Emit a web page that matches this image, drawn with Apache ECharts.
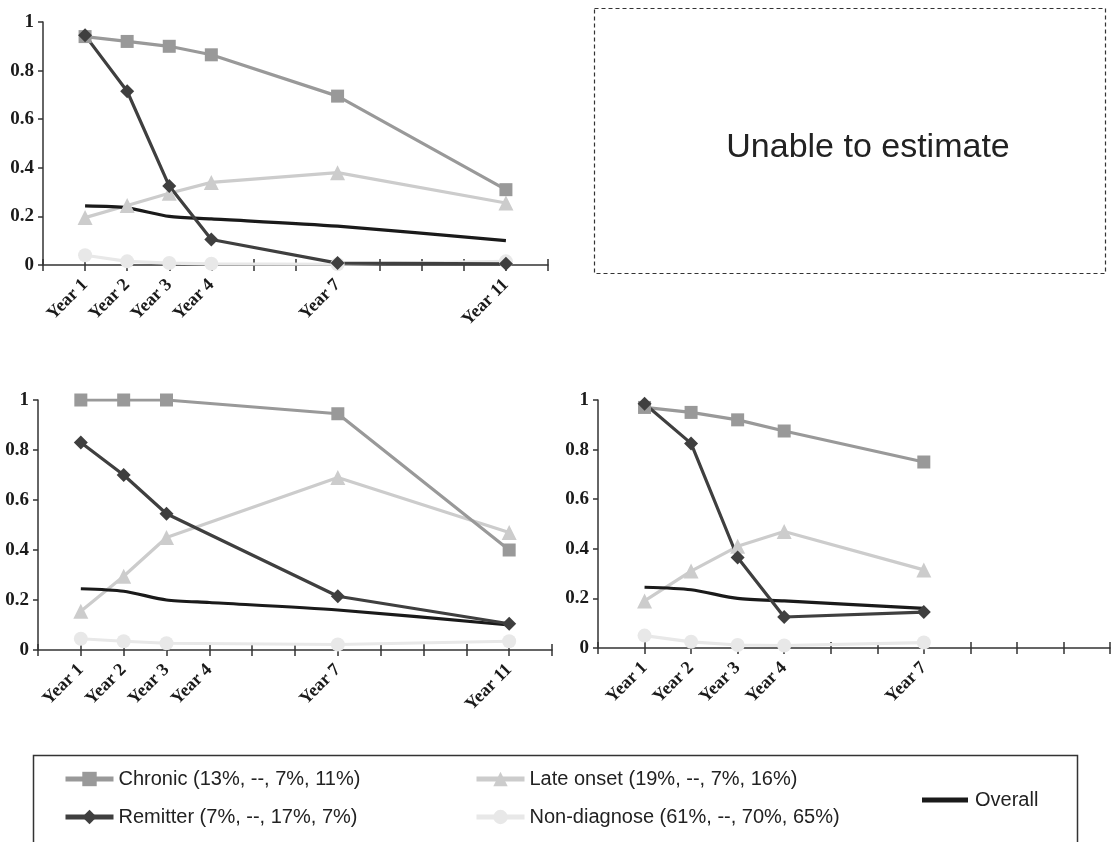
<!DOCTYPE html>
<html><head><meta charset="utf-8">
<script src="https://cdn.jsdelivr.net/npm/echarts@6/dist/echarts.min.js"></script>
<style>html,body{margin:0;padding:0;background:#fff}#c{width:1113px;height:842px}</style>
</head><body><div id="c"></div>
<script>
// Panel A (top-left)
const yearsA = [1, 2, 3, 4, 7, 11];
const chronicA = [0.94, 0.92, 0.90, 0.865, 0.695, 0.31];
const remitterA = [0.945, 0.715, 0.325, 0.105, 0.008, 0.005];
const lateA = [0.195, 0.245, 0.295, 0.34, 0.38, 0.255];
const nonDiagA = [0.04, 0.015, 0.008, 0.005, 0.003, 0.015];
const overallA = [0.243, 0.235, 0.2, 0.19, 0.16, 0.1];
// Panel B (bottom-left)
const yearsB = [1, 2, 3, 4, 7, 11];
const chronicB = [1.0, 1.0, 1.0, null, 0.945, 0.40];
const remitterB = [0.83, 0.70, 0.545, null, 0.215, 0.105];
const lateB = [0.155, 0.295, 0.45, null, 0.69, 0.47];
const nonDiagB = [0.045, 0.035, 0.027, null, 0.022, 0.035];
const overallB = [0.245, 0.235, 0.2, 0.19, 0.16, 0.1];
// Panel C (bottom-right)
const yearsC = [1, 2, 3, 4, 7];
const chronicC = [0.97, 0.95, 0.92, 0.875, 0.75];
const remitterC = [0.985, 0.825, 0.365, 0.125, 0.145];
const lateC = [0.19, 0.31, 0.41, 0.47, 0.315];
const nonDiagC = [0.05, 0.025, 0.012, 0.01, 0.022];
const overallC = [0.245, 0.235, 0.2, 0.19, 0.16];
// tick labels
const tickYearsA = [1, 2, 3, 4, 7, 11];
const tickYearsB = [1, 2, 3, 4, 7, 11];
const tickYearsC = [1, 2, 3, 4, 7];
const yTicks = [0, 0.2, 0.4, 0.6, 0.8, 1];
const names = {
  chronic: 'Chronic (13%, --, 7%, 11%)',
  remitter: 'Remitter (7%, --, 17%, 7%)',
  late: 'Late onset (19%, --, 7%, 16%)',
  nonDiag: 'Non-diagnose (61%, --, 70%, 65%)',
  overall: 'Overall'
};
const noteText = 'Unable to estimate';

const COL = {chronic:'#999999', remitter:'#3f3f3f', late:'#cccccc', nonDiag:'#e8e8e8', overall:'#1a1a1a'};
const SYM = {chronic:'rect', remitter:'diamond', late:'triangle', nonDiag:'circle', overall:'none'};
const SIZE = {chronic:13, remitter:14, late:15, nonDiag:14, overall:0};

const grids = [
  {left:43, top:22, width:505, height:243, max:12, ticks:tickYearsA},
  {left:38, top:400, width:514, height:250, max:12, ticks:tickYearsB},
  {left:598, top:400, width:512, height:248, max:11, ticks:tickYearsC}
];
const panels = [
  {years:yearsA, chronic:chronicA, remitter:remitterA, late:lateA, nonDiag:nonDiagA, overall:overallA},
  {years:yearsB, chronic:chronicB, remitter:remitterB, late:lateB, nonDiag:nonDiagB, overall:overallB},
  {years:yearsC, chronic:chronicC, remitter:remitterC, late:lateC, nonDiag:nonDiagC, overall:overallC}
];

const xAxis = [], yAxis = [], series = [];
grids.forEach((g, i) => {
  const ticks = g.ticks;
  xAxis.push({
    type:'value', gridIndex:i, min:0, max:g.max, interval:1,
    axisLine:{lineStyle:{color:'#333', width:1.5}},
    axisTick:{show:true, length:6, lineStyle:{color:'#333', width:1.5}},
    splitLine:{show:false},
    axisLabel:{
      rotate:45, margin:17, color:'#1a1a1a', fontFamily:'Liberation Serif', fontWeight:'bold', fontSize:18,
      formatter: v => ticks.indexOf(v) >= 0 ? 'Year ' + v : ''
    }
  });
  xAxis.push({
    type:'value', gridIndex:i, min:0, max:g.max, interval:1, position:'bottom',
    axisLine:{show:false}, axisLabel:{show:false}, splitLine:{show:false},
    axisTick:{show:true, inside:true, length:6, lineStyle:{color:'#333', width:1.5}}
  });
  yAxis.push({
    type:'value', gridIndex:i, min:0, max:1, interval:0.2,
    axisLine:{show:true, lineStyle:{color:'#333', width:1.5}},
    axisTick:{show:true, length:5, lineStyle:{color:'#333', width:1.5}},
    splitLine:{show:false},
    axisLabel:{color:'#1a1a1a', fontFamily:'Liberation Serif', fontWeight:'bold', fontSize:19, margin:9,
      formatter: v => { const t = yTicks.find(k => Math.abs(k - v) < 1e-6); return t === undefined ? '' : String(t); }}
  });
  const p = panels[i];
  ['nonDiag', 'late', 'chronic', 'overall', 'remitter'].forEach(key => {
    series.push({
      name: names[key], type:'line', xAxisIndex:i*2, yAxisIndex:i,
      data: p.years.map((y, j) => [y, p[key][j]]).filter(d => d[1] !== null),
      symbol: SYM[key], symbolSize: SIZE[key], showSymbol: key !== 'overall',
      smooth: key === 'overall' ? 0.25 : false,
      lineStyle:{color:COL[key], width:3.2},
      itemStyle:{color:COL[key], borderWidth:0},
      emphasis:{disabled:true}, animation:false
    });
  });
});

const legendText = {color:'#222', fontFamily:'Liberation Sans', fontSize:20};
const legendLine = {width:5};
const option = {
  backgroundColor:'#fff',
  animation:false,
  grid: grids.map(g => ({left:g.left, top:g.top, width:g.width, height:g.height, containLabel:false})),
  xAxis, yAxis, series,
  legend:[
    {data:[names.chronic, names.remitter], orient:'vertical', left:58, top:764, itemWidth:48, itemHeight:18, itemGap:18, lineStyle:legendLine, textStyle:legendText, selectedMode:false},
    {data:[names.late, names.nonDiag], orient:'vertical', left:469, top:764, itemWidth:48, itemHeight:18, itemGap:18, lineStyle:legendLine, textStyle:legendText, selectedMode:false},
    {data:[{name:names.overall, icon:'rect'}], orient:'vertical', left:917, top:785, itemWidth:46, itemHeight:5, textStyle:Object.assign({}, legendText, {padding:[0,0,0,2]}), selectedMode:false}
  ],
  graphic:[
    {type:'rect', shape:{x:594.5, y:8.5, width:511, height:265}, style:{fill:'none', stroke:'#333', lineWidth:1.2, lineDash:[4,3]}},
    {type:'text', x:868, y:148, style:{text:noteText, fill:'#222', font:'34px "Liberation Sans"', textAlign:'center', textVerticalAlign:'middle'}},
    {type:'rect', shape:{x:33.5, y:755.5, width:1044, height:100}, style:{fill:'none', stroke:'#333', lineWidth:1.5}}
  ]
};
echarts.init(document.getElementById('c'), null, {renderer:'canvas'}).setOption(option);
</script>
</body></html>
